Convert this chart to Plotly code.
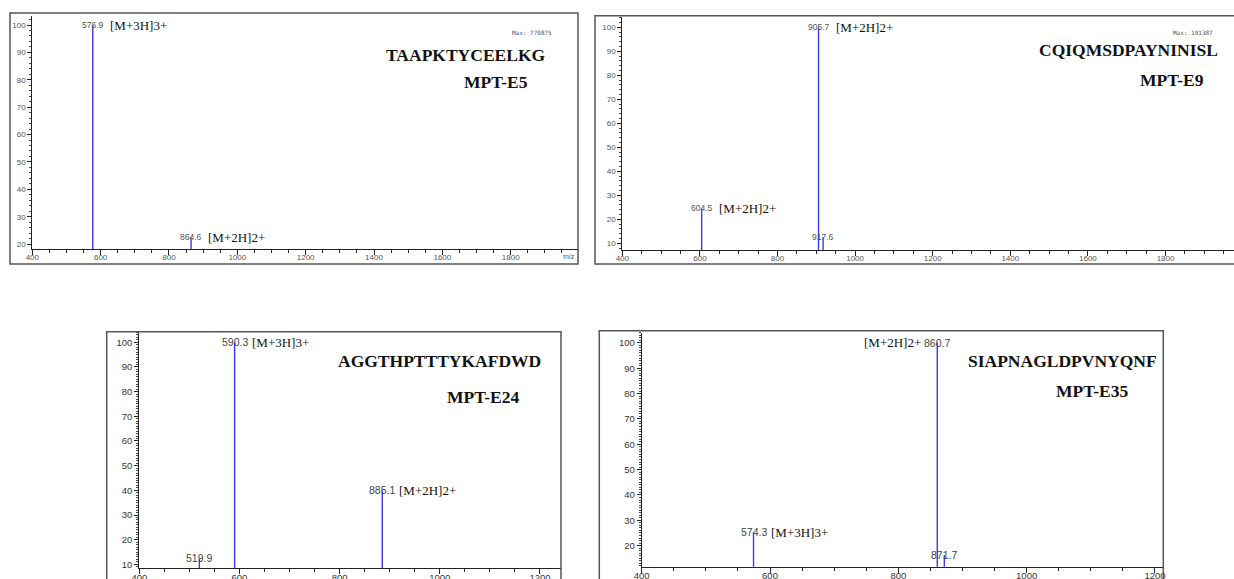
import plotly.graph_objects as go

W, H = 1234, 579

# ---- peak lists (m/z, relative intensity %) ----
e5_mz = [576.9, 864.6]
e5_int = [100, 22.5]
e5_ions = ["[M+3H]3+", "[M+2H]2+"]

e9_mz = [604.5, 905.7, 917.6]
e9_int = [24.5, 100, 12.5]
e9_ions = ["[M+2H]2+", "[M+2H]2+", ""]

e24_mz = [519.9, 590.3, 885.1]
e24_int = [12.4, 100, 40]
e24_ions = ["", "[M+3H]3+", "[M+2H]2+"]

e35_mz = [574.3, 860.7, 871.7]
e35_int = [25.3, 100, 16.3]
e35_ions = ["[M+3H]3+", "[M+2H]2+", ""]

sequences = ["TAAPKTYCEELKG", "CQIQMSDPAYNINISL", "AGGTHPTTTYKAFDWD", "SIAPNAGLDPVNYQNF"]
peptide_ids = ["MPT-E5", "MPT-E9", "MPT-E24", "MPT-E35"]
max_counts = ["Max: 770875", "Max: 191387", "", ""]
x_ticks = [400, 600, 800, 1000, 1200, 1400, 1600, 1800]


def px(x):
    return x / W


def py(y):
    return 1 - y / H


# ---- page geometry in pixels ----
panels = [
    dict(mz=e5_mz, inten=e5_int, ions=e5_ions,
         plot=(32.3, 578, 16, 249), xr=[400, 1997], yr=[18.2, 103.3],
         frame=(10, 578, 13, 264), small=True, ion_side=[1, 1],
         seq_pos=(548, 55), id_pos=(495.5, 82), max_pos=(532, 33), yt=list(range(20, 101, 10))),
    dict(mz=e9_mz, inten=e9_int, ions=e9_ions,
         plot=(622.3, 1234, 16.7, 250), xr=[400, 1976.5], yr=[7.2, 104.4],
         frame=(595, 1240, 15.7, 264), small=True, ion_side=[1, 1, 1],
         seq_pos=(1220, 50), id_pos=(1171.5, 80), max_pos=(1193, 33), yt=list(range(10, 101, 10))),
    dict(mz=e24_mz, inten=e24_int, ions=e24_ions,
         plot=(139.3, 561, 331.7, 568.3), xr=[400, 1242], yr=[8.4, 104.3],
         frame=(106.7, 561, 331.7, 590), small=False, ion_side=[1, 1, 1],
         seq_pos=(543, 361), id_pos=(483, 396.7), max_pos=None, yt=list(range(10, 101, 10))),
    dict(mz=e35_mz, inten=e35_int, ions=e35_ions,
         plot=(641.7, 1163.3, 332.7, 566.7), xr=[400, 1213], yr=[11.7, 104],
         frame=(599.3, 1163.3, 330.7, 590), small=False, ion_side=[1, -1, 1],
         seq_pos=(1159, 360.7), id_pos=(1092, 390.7), max_pos=None, yt=list(range(20, 101, 10))),
]

fig = go.Figure()
annotations = []
shapes = []
PEAK_BLUE = "#3a3af2"
SERIF = "Liberation Serif, Times New Roman, serif"

for i, p in enumerate(panels):
    n = "" if i == 0 else str(i + 1)
    xa, ya = "x" + n, "y" + n
    l, r, t, b = p["plot"]

    # stick spectrum
    xs, ys = [], []
    for m, v in zip(p["mz"], p["inten"]):
        xs += [m, m, None]
        ys += [0, v, None]
    fig.add_trace(go.Scatter(x=xs, y=ys, mode="lines", xaxis=xa, yaxis=ya,
                             line=dict(color=PEAK_BLUE, width=1.4),
                             hoverinfo="skip", showlegend=False))

    if p["small"]:
        tickfont = dict(family="Liberation Sans Narrow, Arial Narrow, sans-serif", size=8, color="#555")
        numfont = dict(family="Liberation Sans Narrow, Arial Narrow, sans-serif", size=8.5, color="#555")
        ydminor = 2
    else:
        tickfont = dict(family="Liberation Sans, Arial, sans-serif", size=9.5, color="#333")
        numfont = dict(family="Liberation Sans, Arial, sans-serif", size=10.5, color="#444")
        ydminor = 1

    axis_common = dict(showline=True, linecolor="#222", linewidth=1, showgrid=False,
                       zeroline=False, ticks="outside", tickcolor="#222", tickfont=tickfont,
                       fixedrange=True, automargin=False)
    fig.layout["xaxis" + n] = dict(domain=[px(l), px(r)], range=p["xr"], anchor=ya,
                                   tickvals=x_ticks, ticklen=5, ticklabelstandoff=-5,
                                   minor=dict(dtick=50, tick0=400, ticklen=3, ticks="outside", tickcolor="#222"),
                                   **axis_common)
    fig.layout["yaxis" + n] = dict(domain=[py(b), py(t)], range=p["yr"], anchor=xa,
                                   tickvals=p["yt"], ticklen=4,
                                   minor=dict(dtick=ydminor, tick0=0, ticklen=2, ticks="outside", tickcolor="#444"),
                                   **axis_common)

    # peak m/z labels and ion assignments
    for m, v, ion, side in zip(p["mz"], p["inten"], p["ions"], p["ion_side"]):
        annotations.append(dict(x=m, y=v, xref=xa, yref=ya, text=f"{m:.1f}", showarrow=False,
                                xanchor="center", yanchor="middle", font=numfont))
        if ion:
            annotations.append(dict(x=m, y=v, xref=xa, yref=ya, text=ion, showarrow=False,
                                    xanchor="left" if side > 0 else "right",
                                    xshift=15 if side > 0 else -14, yanchor="middle",
                                    font=dict(family=SERIF, size=13, color="#111")))

    # sequence and peptide name
    sx, sy = p["seq_pos"]
    annotations.append(dict(x=px(sx), y=py(sy), xref="paper", yref="paper", text="<b>%s</b>" % sequences[i],
                            showarrow=False, xanchor="right", yanchor="middle",
                            font=dict(family=SERIF, size=17.5, color="#111")))
    ix, iy = p["id_pos"]
    annotations.append(dict(x=px(ix), y=py(iy), xref="paper", yref="paper", text="<b>%s</b>" % peptide_ids[i],
                            showarrow=False, xanchor="center", yanchor="middle",
                            font=dict(family=SERIF, size=17.5, color="#111")))
    if p["max_pos"]:
        mx, my = p["max_pos"]
        annotations.append(dict(x=px(mx), y=py(my), xref="paper", yref="paper", text=max_counts[i],
                                showarrow=False, xanchor="center", yanchor="middle",
                                font=dict(family="DejaVu Sans Mono, monospace", size=6, color="#555")))

    # outer frame
    fl, fr, ft, fb = p["frame"]
    shapes.append(dict(type="rect", xref="paper", yref="paper", x0=px(fl), x1=px(fr),
                       y0=py(fb), y1=py(ft), line=dict(color="#555", width=1.5)))

annotations.append(dict(x=px(577), y=py(257), xref="paper", yref="paper", text="m/z", showarrow=False,
                        xanchor="right", yanchor="middle",
                        font=dict(family="Liberation Sans Narrow, Arial Narrow, sans-serif", size=7, color="#555")))

fig.update_layout(template="none", width=W, height=H, margin=dict(l=0, r=0, t=0, b=0, autoexpand=False),
                  paper_bgcolor="white", plot_bgcolor="white",
                  annotations=annotations, shapes=shapes, showlegend=False)

fig.write_html("out.html", config={"displayModeBar": False})
